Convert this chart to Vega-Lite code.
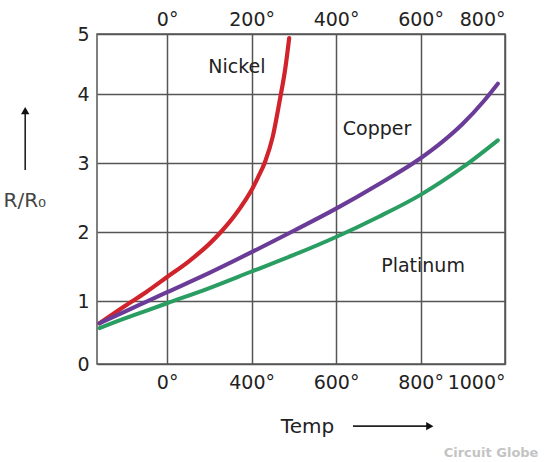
{
  "$schema": "https://vega.github.io/schema/vega-lite/v6.json",
  "width": 408,
  "height": 330,
  "autosize": {"type": "none"},
  "padding": {"left": 97, "top": 34, "right": 46, "bottom": 98},
  "background": "white",
  "config": {"view": {"stroke": "#555", "strokeWidth": 1.5}, "font": "DejaVu Sans"},
  "datasets": {
    "curves": [
      {"metal": "Nickel", "t": -160, "r": 0.68},
      {"metal": "Nickel", "t": -100, "r": 0.93},
      {"metal": "Nickel", "t": -50, "r": 1.13},
      {"metal": "Nickel", "t": 0, "r": 1.35},
      {"metal": "Nickel", "t": 50, "r": 1.57},
      {"metal": "Nickel", "t": 100, "r": 1.83},
      {"metal": "Nickel", "t": 130, "r": 2.02},
      {"metal": "Nickel", "t": 160, "r": 2.24},
      {"metal": "Nickel", "t": 185, "r": 2.46},
      {"metal": "Nickel", "t": 200, "r": 2.61},
      {"metal": "Nickel", "t": 215, "r": 2.79},
      {"metal": "Nickel", "t": 232, "r": 3.02},
      {"metal": "Nickel", "t": 250, "r": 3.38},
      {"metal": "Nickel", "t": 267, "r": 3.92},
      {"metal": "Nickel", "t": 280, "r": 4.38},
      {"metal": "Nickel", "t": 289, "r": 4.81},
      {"metal": "Copper", "t": -160, "r": 0.68},
      {"metal": "Copper", "t": -100, "r": 0.85},
      {"metal": "Copper", "t": -50, "r": 0.99},
      {"metal": "Copper", "t": 0, "r": 1.13},
      {"metal": "Copper", "t": 100, "r": 1.41},
      {"metal": "Copper", "t": 200, "r": 1.71},
      {"metal": "Copper", "t": 300, "r": 2.02},
      {"metal": "Copper", "t": 400, "r": 2.34},
      {"metal": "Copper", "t": 500, "r": 2.69},
      {"metal": "Copper", "t": 600, "r": 3.07},
      {"metal": "Copper", "t": 650, "r": 3.3},
      {"metal": "Copper", "t": 700, "r": 3.57},
      {"metal": "Copper", "t": 750, "r": 3.9},
      {"metal": "Copper", "t": 783, "r": 4.15},
      {"metal": "Platinum", "t": -160, "r": 0.61},
      {"metal": "Platinum", "t": -100, "r": 0.75},
      {"metal": "Platinum", "t": -50, "r": 0.86},
      {"metal": "Platinum", "t": 0, "r": 0.97},
      {"metal": "Platinum", "t": 100, "r": 1.19},
      {"metal": "Platinum", "t": 200, "r": 1.43},
      {"metal": "Platinum", "t": 300, "r": 1.67},
      {"metal": "Platinum", "t": 400, "r": 1.93},
      {"metal": "Platinum", "t": 500, "r": 2.22},
      {"metal": "Platinum", "t": 600, "r": 2.54},
      {"metal": "Platinum", "t": 700, "r": 2.94},
      {"metal": "Platinum", "t": 783, "r": 3.33}
    ],
    "labels": [
      {"name": "Nickel", "t": 165, "r": 4.39},
      {"name": "Copper", "t": 497, "r": 3.49},
      {"name": "Platinum", "t": 606, "r": 1.51}
    ],
    "arrows": [
      {"t": -336, "r": 2.9, "t2": -336, "r2": 3.72},
      {"t": 440, "r": -0.81, "t2": 618, "r2": -0.81}
    ],
    "upHead": [{"t": -336, "r": 3.76}],
    "rightHead": [{"t": 622, "r": -0.81}],
    "mark": [{"t": 767, "r": -1.2, "text": "Circuit Globe"}]
  },
  "layer": [
    {
      "data": {"name": "curves"},
      "mark": {"type": "line", "interpolate": "monotone", "strokeCap": "round"},
      "encoding": {
        "x": {
          "field": "t", "type": "quantitative",
          "scale": {"domain": [-166, 800], "nice": false, "zero": false},
          "axis": {
            "orient": "bottom", "values": [0, 200, 400, 600, 800],
            "labelExpr": "datum.value == 0 ? '0°' : (datum.value + 200) + '°'",
            "grid": true, "gridColor": "#555", "gridWidth": 1.5, "gridOpacity": 1,
            "ticks": false, "domain": false,
            "labelFont": "DejaVu Sans", "labelFontSize": 19, "labelColor": "#222", "labelPadding": 9,
            "title": "Temp", "titleFont": "DejaVu Sans", "titleFontSize": 20, "titleFontWeight": "normal",
            "titleColor": "#222", "titleX": 210, "titleY": 62, "titleAlign": "center", "titleBaseline": "middle"
          }
        },
        "y": {
          "field": "r", "type": "quantitative",
          "scale": {"domain": [0.09, 4.87], "nice": false, "zero": false},
          "axis": {
            "orient": "left",
            "values": [0.09, 1, 2, 3, 4, 4.87],
            "labelExpr": "datum.value < 0.5 ? '0' : datum.value > 4.5 ? '5' : format(datum.value, 'd')",
            "grid": true, "gridColor": "#555", "gridWidth": 1.5, "gridOpacity": 1,
            "ticks": false, "domain": false,
            "labelFont": "DejaVu Sans", "labelFontSize": 19, "labelColor": "#222", "labelPadding": 8,
            "title": "R/R₀", "titleFont": "DejaVu Sans", "titleFontSize": 20, "titleFontWeight": "normal",
            "titleColor": "#444", "titleAngle": 0, "titleAlign": "left", "titleBaseline": "middle",
            "titleX": -94, "titleY": 166
          }
        },
        "color": {
          "field": "metal", "type": "nominal",
          "scale": {"domain": ["Nickel", "Copper", "Platinum"], "range": ["#d0232b", "#6a3c98", "#2a9d62"]},
          "legend": null
        },
        "strokeWidth": {
          "field": "metal", "type": "nominal",
          "scale": {"domain": ["Nickel", "Copper", "Platinum"], "range": [4.2, 4, 3.4]},
          "legend": null
        }
      }
    },
    {
      "data": {"name": "labels"},
      "mark": {"type": "text", "font": "DejaVu Sans", "fontSize": 19, "color": "#222", "align": "center", "baseline": "middle"},
      "encoding": {
        "x": {
          "field": "t", "type": "quantitative",
          "scale": {"domain": [-166, 800], "nice": false, "zero": false},
          "axis": {
            "orient": "top", "values": [0, 200, 400, 600, 800],
            "labelExpr": "datum.value + '°'",
            "grid": false, "ticks": false, "domain": false,
            "labelFont": "DejaVu Sans", "labelFontSize": 19, "labelColor": "#222", "labelPadding": 5,
            "title": null
          }
        },
        "y": {"field": "r", "type": "quantitative", "axis": null},
        "text": {"field": "name"}
      }
    },
    {
      "data": {"name": "arrows"},
      "mark": {"type": "rule", "color": "#222", "strokeWidth": 1.6},
      "encoding": {
        "x": {"field": "t", "type": "quantitative", "axis": null},
        "x2": {"field": "t2"},
        "y": {"field": "r", "type": "quantitative", "axis": null},
        "y2": {"field": "r2"}
      }
    },
    {
      "data": {"name": "upHead"},
      "mark": {"type": "point", "shape": "triangle-up", "filled": true, "color": "#111", "size": 70, "opacity": 1},
      "encoding": {
        "x": {"field": "t", "type": "quantitative", "axis": null},
        "y": {"field": "r", "type": "quantitative", "axis": null}
      }
    },
    {
      "data": {"name": "rightHead"},
      "mark": {"type": "point", "shape": "triangle-right", "filled": true, "color": "#111", "size": 70, "opacity": 1},
      "encoding": {
        "x": {"field": "t", "type": "quantitative", "axis": null},
        "y": {"field": "r", "type": "quantitative", "axis": null}
      }
    },
    {
      "data": {"name": "mark"},
      "mark": {"type": "text", "font": "DejaVu Sans", "fontSize": 13, "fontWeight": "bold", "color": "#c4c4c4", "align": "center", "baseline": "middle"},
      "encoding": {
        "x": {"field": "t", "type": "quantitative", "axis": null},
        "y": {"field": "r", "type": "quantitative", "axis": null},
        "text": {"field": "text"}
      }
    }
  ],
  "resolve": {"axis": {"x": "independent", "y": "independent"}}
}
